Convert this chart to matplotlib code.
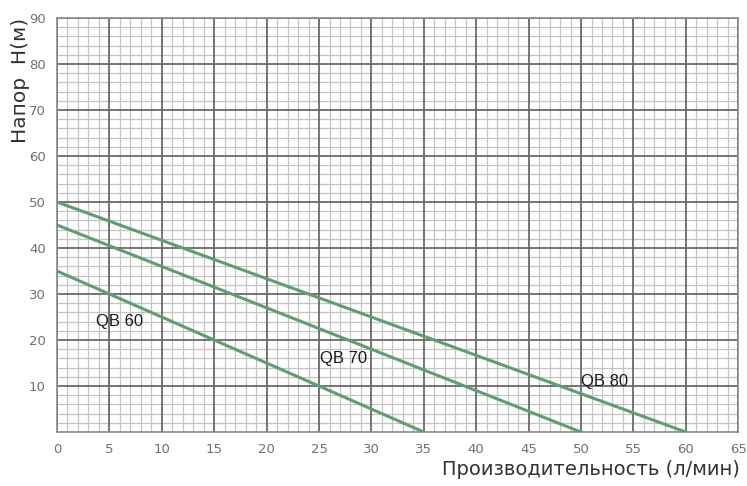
import matplotlib
matplotlib.use("Agg")
import matplotlib.pyplot as plt
from matplotlib.ticker import MultipleLocator

# pump curves: flow (l/min) vs head (m)
flow_qb60 = [0, 35]
head_qb60 = [35, 0]
flow_qb70 = [0, 50]
head_qb70 = [45, 0]
flow_qb80 = [0, 60]
head_qb80 = [50, 0]

labels = ["QB 60", "QB 70", "QB 80"]
label_x = [6.0, 27.3, 52.2]
label_y = [24, 16, 11]

x_ticks = list(range(0, 70, 5))
y_ticks = list(range(10, 100, 10))

fig = plt.figure(figsize=(7.47, 4.86), dpi=100)
ax = fig.add_axes([0.0763, 0.111, 0.912, 0.852])

line_color = "#5f9e6e"
for fx, hy in [(flow_qb60, head_qb60), (flow_qb70, head_qb70), (flow_qb80, head_qb80)]:
    ax.plot(fx, hy, color=line_color, lw=2.2, zorder=3)

for name, lx, ly in zip(labels, label_x, label_y):
    ax.text(lx, ly, name, fontsize=12, color="#1a1a1a", ha="center", va="center",
            family="Liberation Sans", zorder=4)

ax.set_xlim(0, 65)
ax.set_ylim(0, 90)
ax.set_xticks(x_ticks)
ax.set_yticks(y_ticks)
ax.xaxis.set_minor_locator(MultipleLocator(1))
ax.yaxis.set_minor_locator(MultipleLocator(2))
ax.grid(which="minor", color="#c4c4c4", lw=0.9)
ax.set_axisbelow(True)
# major grid drawn on top of the minor one so it stays solid
for xv in x_ticks:
    ax.axvline(xv, color="#6a6a6a", lw=1.3, zorder=1)
for yv in y_ticks:
    ax.axhline(yv, color="#6a6a6a", lw=1.3, zorder=1)
ax.tick_params(which="both", length=0, labelsize=9.5, colors="#707070", pad=8)
for sp in ax.spines.values():
    sp.set_color("#8a8a8a")
    sp.set_linewidth(1.2)

fig.text(0.028, 0.963, "Напор  H(м)", rotation=90, ha="center", va="top",
         fontsize=14.5, color="#333333")
fig.text(0.99, 0.015, "Производительность (л/мин)", ha="right", va="bottom",
         fontsize=14, color="#333333")

fig.savefig("out.png", dpi=100)
